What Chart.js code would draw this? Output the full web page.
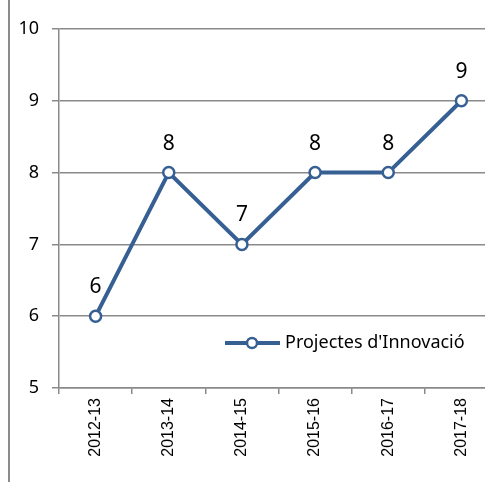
<!DOCTYPE html>
<html>
<head>
<meta charset="utf-8">
<script src="https://cdn.jsdelivr.net/npm/chart.js@4.4.1/dist/chart.umd.min.js"></script>
<style>
  html, body { margin: 0; padding: 0; background: #fff; overflow: hidden; }
  #wrap { width: 506px; height: 482px; }
</style>
</head>
<body>
<div id="wrap"><canvas id="chart" width="506" height="482"></canvas></div>
<script>
// chart data
const years = ['2012-13', '2013-14', '2014-15', '2015-16', '2016-17', '2017-18'];
const projects = [6, 8, 7, 8, 8, 9];
const seriesName = "Projectes d'Innovació";

const lineColor = '#365f93';
const gridColor = '#8a8a8a';
const labelFont = '"Noto Sans", sans-serif';

// value labels above each point
const pointLabels = {
    id: 'pointLabels',
    afterDatasetsDraw(chart) {
        const ctx = chart.ctx;
        const meta = chart.getDatasetMeta(0);
        ctx.save();
        ctx.fillStyle = '#000';
        ctx.font = '21px ' + labelFont;
        ctx.textAlign = 'center';
        ctx.textBaseline = 'alphabetic';
        meta.data.forEach(function(pt, i) {
            ctx.fillText(String(chart.data.datasets[0].data[i]), pt.x, pt.y - 23);
        });
        ctx.restore();
    }
};

// legend drawn inside the plot, bottom right
const innerLegend = {
    id: 'innerLegend',
    afterDraw(chart) {
        const ctx = chart.ctx;
        const ds = chart.data.datasets[0];
        const y = 343;
        ctx.save();
        ctx.strokeStyle = ds.borderColor;
        ctx.lineWidth = 4;
        ctx.beginPath();
        ctx.moveTo(225, y);
        ctx.lineTo(280, y);
        ctx.stroke();
        ctx.beginPath();
        ctx.arc(252, y, 5, 0, Math.PI * 2);
        ctx.fillStyle = '#fff';
        ctx.fill();
        ctx.lineWidth = 2.5;
        ctx.stroke();
        ctx.fillStyle = '#000';
        ctx.font = '18px ' + labelFont;
        ctx.textBaseline = 'middle';
        ctx.fillText(ds.label, 285, y);
        ctx.restore();
    }
};

// left frame line
const frameLine = {
    id: 'frameLine',
    beforeDraw(chart) {
        const ctx = chart.ctx;
        ctx.save();
        ctx.strokeStyle = '#8c8c8c';
        ctx.lineWidth = 2;
        ctx.beginPath();
        ctx.moveTo(9, 0);
        ctx.lineTo(9, chart.height);
        ctx.stroke();
        ctx.restore();
    }
};

new Chart(document.getElementById('chart'), {
    type: 'line',
    data: {
        labels: years,
        datasets: [{
            label: seriesName,
            data: projects,
            borderColor: lineColor,
            borderWidth: 4,
            backgroundColor: '#fff',
            pointBackgroundColor: '#fff',
            pointBorderColor: lineColor,
            pointBorderWidth: 2.5,
            pointRadius: 5.5,
            tension: 0
        }]
    },
    options: {
        responsive: false,
        animation: false,
        layout: { padding: { top: 29, right: 0, left: 0, bottom: 0 } },
        plugins: {
            legend: { display: false },
            tooltip: { enabled: false }
        },
        scales: {
            x: {
                offset: true,
                grid: {
                    offset: true,
                    drawOnChartArea: false,
                    drawTicks: true,
                    tickLength: 6,
                    color: gridColor,
                    lineWidth: 1.5
                },
                border: { color: gridColor, width: 1.5 },
                ticks: {
                    color: '#000',
                    font: { family: '"Liberation Sans", Arial, sans-serif', size: 16 },
                    minRotation: 90,
                    maxRotation: 90,
                    padding: 4
                },
                afterFit(scale) { scale.height = 94; }
            },
            y: {
                min: 5,
                max: 10,
                ticks: {
                    stepSize: 1,
                    color: '#000',
                    font: { family: labelFont, size: 18 },
                    padding: 13
                },
                grid: {
                    color: gridColor,
                    lineWidth: 1.5,
                    tickLength: 7
                },
                border: { color: gridColor, width: 1.5 },
                afterFit(scale) { scale.width = 59; }
            }
        }
    },
    plugins: [frameLine, pointLabels, innerLegend]
});
</script>
</body>
</html>
